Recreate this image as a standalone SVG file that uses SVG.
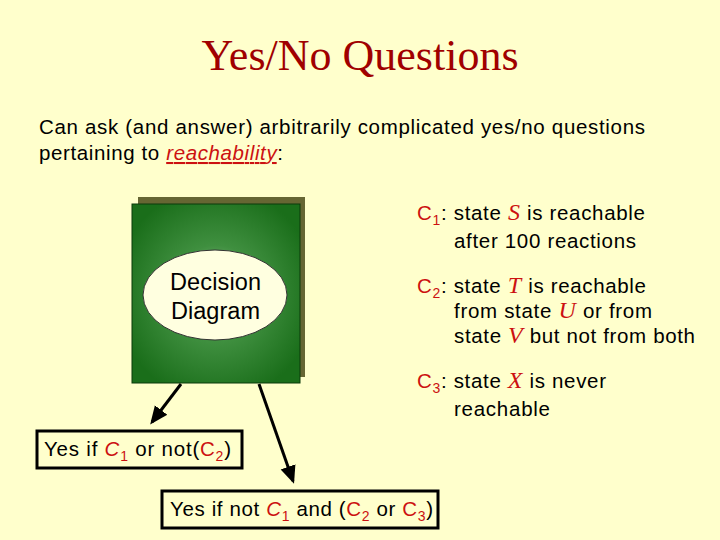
<svg xmlns="http://www.w3.org/2000/svg" width="720" height="540" viewBox="0 0 720 540">
<style>
.t{font-family:"Liberation Sans",Arial,sans-serif;font-size:20.5px;fill:#000}
.r{fill:#CC1111}
.serif{font-family:"Liberation Serif","Times New Roman",serif;font-style:italic;fill:#CC1111;font-size:24px}
.box{fill:none;stroke:#000;stroke-width:3}
.arr{stroke:#000;stroke-width:3;fill:none;marker-end:url(#ah)}
.dd{font-size:23.5px}
</style>
<defs>
<marker id="ah" markerWidth="6" markerHeight="6" refX="5" refY="3" orient="auto" markerUnits="strokeWidth">
<path d="M0,0.4 L6,3 L0,5.6 Z" fill="#000"/>
</marker>
<radialGradient id="g" cx="0.5" cy="0.5" r="0.6">
<stop offset="0" stop-color="#a3cfa3"/>
<stop offset="0.45" stop-color="#3f8f3f"/>
<stop offset="1" stop-color="#1a6e1a"/>
</radialGradient>
</defs>
<rect width="720" height="540" fill="#FFFFCC"/>
<text x="360" y="70" text-anchor="middle" font-family="Liberation Serif,'Times New Roman',serif" font-size="44" fill="#A00000">Yes/No Questions</text>
<text class="t" x="39" y="134" textLength="606" lengthAdjust="spacing">Can ask (and answer) arbitrarily complicated yes/no questions</text>
<text class="t" x="39" y="160" textLength="244" lengthAdjust="spacing">pertaining to <tspan class="r" font-style="italic" text-decoration="underline">reachability</tspan>:</text>
<g id="dd">
<rect x="138" y="197" width="167" height="180" fill="#666633"/>
<rect x="132" y="204" width="168" height="179" fill="url(#g)" stroke="#0a3a0a" stroke-width="1"/>
<ellipse cx="215" cy="295" rx="72" ry="45" fill="#FFFFE0" stroke="#333" stroke-width="1"/>
<text class="t dd" x="170" y="290" textLength="91" lengthAdjust="spacing">Decision</text>
<text class="t dd" x="171" y="319" textLength="89" lengthAdjust="spacing">Diagram</text>
</g>
<g id="conds">
<text class="t" x="417" y="220" textLength="228" lengthAdjust="spacing"><tspan class="r">C</tspan><tspan class="r" font-size="14" dy="5">1</tspan><tspan dy="-5">: state </tspan><tspan class="serif">S</tspan> is reachable</text>
<text class="t" x="454" y="248" textLength="182" lengthAdjust="spacing">after 100 reactions</text>
<text class="t" x="417" y="293" textLength="229" lengthAdjust="spacing"><tspan class="r">C</tspan><tspan class="r" font-size="14" dy="5">2</tspan><tspan dy="-5">: state </tspan><tspan class="serif">T</tspan> is reachable</text>
<text class="t" x="454" y="318" textLength="198" lengthAdjust="spacing">from state <tspan class="serif">U</tspan> or from</text>
<text class="t" x="454" y="343" textLength="241" lengthAdjust="spacing">state <tspan class="serif">V</tspan> but not from both</text>
<text class="t" x="417" y="388" textLength="189" lengthAdjust="spacing"><tspan class="r">C</tspan><tspan class="r" font-size="14" dy="5">3</tspan><tspan dy="-5">: state </tspan><tspan class="serif">X</tspan> is never</text>
<text class="t" x="454" y="416" textLength="96" lengthAdjust="spacing">reachable</text>
</g>
<g id="connectors">
<line class="arr" x1="181" y1="384" x2="152" y2="422"/>
<line class="arr" x1="259" y1="384" x2="293" y2="481"/>
</g>
<g id="yes1">
<rect class="box" x="37" y="431" width="205" height="37"/>
<text class="t" x="44" y="456" textLength="187" lengthAdjust="spacing">Yes if <tspan class="r" font-style="italic">C</tspan><tspan class="r" font-size="14" dy="5">1</tspan><tspan dy="-5"> or not(</tspan><tspan class="r">C</tspan><tspan class="r" font-size="14" dy="5">2</tspan><tspan dy="-5">)</tspan></text>
</g>
<g id="yes2">
<rect class="box" x="162" y="491" width="276" height="37"/>
<text class="t" x="170" y="516" textLength="263" lengthAdjust="spacing">Yes if not <tspan class="r" font-style="italic">C</tspan><tspan class="r" font-size="14" dy="5">1</tspan><tspan dy="-5"> and (</tspan><tspan class="r">C</tspan><tspan class="r" font-size="14" dy="5">2</tspan><tspan dy="-5"> or </tspan><tspan class="r">C</tspan><tspan class="r" font-size="14" dy="5">3</tspan><tspan dy="-5">)</tspan></text>
</g>
</svg>
